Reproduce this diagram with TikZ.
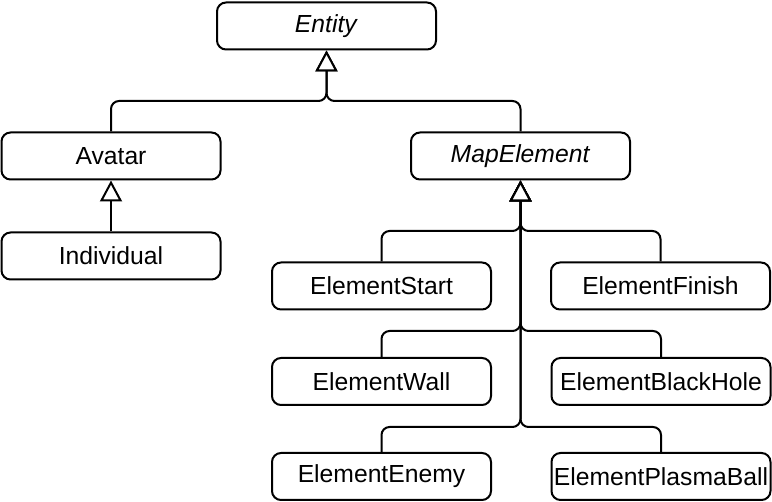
\documentclass[tikz,border=0pt]{standalone}
\usepackage{fontspec}
\setmainfont{Liberation Sans}
\usetikzlibrary{arrows.meta}

\begin{document}
\begin{tikzpicture}[x=1pt, y=-1pt,
		cls/.style={draw, line width=2pt, rounded corners=9pt, minimum width=219pt, minimum height=47pt, inner sep=0pt, font=\fontsize{24.7}{28}\selectfont},
		inh/.style={line width=2pt, rounded corners=8pt, -{Triangle[length=21pt, width=22pt, fill=white]}}]
	\useasboundingbox (0,0) rectangle (772,502);
	% classes
	\node[cls] (ent) at (326.5,26) {\textit{Entity}};
	\node[cls] (av) at (111,156) {Avatar};
	\node[cls] (map) at (520.5,156) {\textit{MapElement}};
	\node[cls] (ind) at (111,256) {Individual};
	\node[cls] (start) at (381.5,286) {ElementStart};
	\node[cls] (fin) at (660.5,286) {ElementFinish};
	\node[cls] (wall) at (381.5,381.5) {ElementWall};
	\node[cls] (hole) at (661,381.5) {ElementBlackHole};
	\node[cls] (enemy) at (381.5,476.5) {ElementEnemy};
	\node[cls] (ball) at (661,476.5) {ElementPlasmaBall};
	% branch levels
	\coordinate (lvl0) at (0,101);
	\coordinate (lvl1) at (0,231);
	\coordinate (lvl2) at (0,331);
	\coordinate (lvl3) at (0,427);
	% inheritance
	\draw[inh] (av.north) |- (ent.south |- lvl0) -- (ent.south);
	\draw[inh] (map.north) |- (ent.south |- lvl0) -- (ent.south);
	\draw[inh] (ind.north) -- (av.south);
	\draw[inh] (start.north) |- (map.south |- lvl1) -- (map.south);
	\draw[inh] (fin.north) |- (map.south |- lvl1) -- (map.south);
	\draw[inh] (wall.north) |- (map.south |- lvl2) -- (map.south);
	\draw[inh] (hole.north) |- (map.south |- lvl2) -- (map.south);
	\draw[inh] (enemy.north) |- (map.south |- lvl3) -- (map.south);
	\draw[inh] (ball.north) |- (map.south |- lvl3) -- (map.south);
\end{tikzpicture}
\end{document}
